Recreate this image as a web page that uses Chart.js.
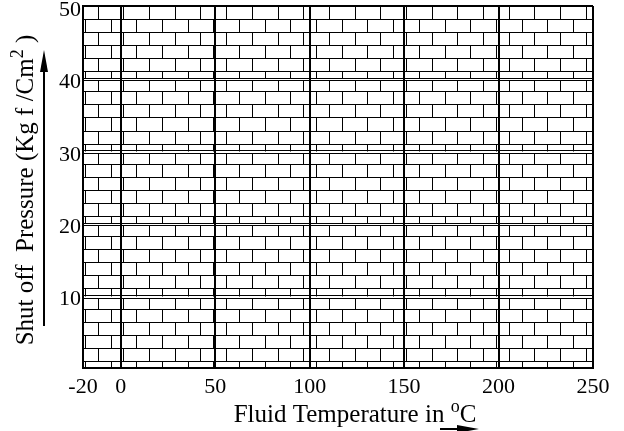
<!DOCTYPE html>
<html>
<head>
<meta charset="utf-8">
<script src="https://cdn.jsdelivr.net/npm/chart.js@4"></script>
<style>
  html, body { margin: 0; padding: 0; background: #fff; }
  #wrap { width: 624px; height: 431px; }
</style>
</head>
<body>
<div id="wrap"><canvas id="chart" width="624" height="431"></canvas></div>
<script>
// Valores dos eixos
const xTicks = [-20, 0, 50, 100, 150, 200, 250];
const yTicks = [0, 10, 20, 30, 40, 50];
const xTitle = [["Fluid Temperature in ", false], ["o", true], ["C", false]];
const yTitle = [["Shut off  Pressure (Kg f /Cm", false], ["2", true], [" )", false]];

// Grade de "tijolos" (em unidades dos eixos)
const brickWidth = 13.6;
const brickHeight = 1.8;
const brickStart = 1.4;

const FONT = "'Liberation Serif', 'Times New Roman', serif";

// Desenha a grade de tijolos antes das linhas principais
const brickPlugin = {
  id: "bricks",
  beforeDraw(chart) {
    const { ctx, chartArea: a, scales: { x, y } } = chart;
    ctx.save();
    ctx.beginPath();
    ctx.rect(a.left, a.top, a.right - a.left, a.bottom - a.top);
    ctx.clip();
    ctx.strokeStyle = "#000";
    ctx.lineWidth = 1;
    for (let b = yTicks.length - 1; b > 0; b--) {
      const top = yTicks[b], bottom = yTicks[b - 1];
      let row = 0;
      for (let v = top; v > bottom + 0.01; v -= brickHeight, row++) {
        let y0 = Math.round(y.getPixelForValue(v)) + 0.5;
        if (row === 0 && b < yTicks.length - 1) y0 += 2; // linha dupla
        const y1 = Math.round(y.getPixelForValue(Math.max(v - brickHeight, bottom))) + 0.5;
        ctx.beginPath();
        ctx.moveTo(a.left, y0);
        ctx.lineTo(a.right, y0);
        const off = brickStart + (row % 2) * brickWidth / 2;
        let j = off;
        while (j > x.min) j -= brickWidth;
        for (; j < x.max; j += brickWidth) {
          if (j <= x.min) continue;
          const px = Math.round(x.getPixelForValue(j)) + 0.5;
          ctx.moveTo(px, y0);
          ctx.lineTo(px, y1);
        }
        ctx.stroke();
      }
    }
    ctx.restore();
  }
};

// Texto com sobrescrito (desenhado a partir da linha de base)
function textWidth(ctx, parts, size) {
  let w = 0;
  parts.forEach(([t, sup]) => {
    ctx.font = `${sup ? Math.round(size * 0.7) : size}px ${FONT}`;
    w += ctx.measureText(t).width;
  });
  return w;
}
function drawParts(ctx, parts, x, y, size) {
  ctx.textBaseline = "alphabetic";
  ctx.textAlign = "left";
  parts.forEach(([t, sup]) => {
    ctx.font = `${sup ? Math.round(size * 0.7) : size}px ${FONT}`;
    ctx.fillText(t, x, sup ? y - size * 0.42 : y);
    x += ctx.measureText(t).width;
  });
}

// Títulos dos eixos e setas
const titlePlugin = {
  id: "titulos",
  afterDraw(chart) {
    const { ctx, chartArea: a } = chart;
    const size = 25;
    ctx.save();
    ctx.fillStyle = "#000";
    ctx.strokeStyle = "#000";

    // título do eixo x
    const wx = textWidth(ctx, xTitle, size);
    drawParts(ctx, xTitle, (a.left + a.right) / 2 + 17 - wx / 2, a.bottom + 54, size);

    // título do eixo y (girado)
    const wy = textWidth(ctx, yTitle, size);
    ctx.save();
    ctx.translate(a.left - 50, (a.top + a.bottom) / 2 + 3);
    ctx.rotate(-Math.PI / 2);
    drawParts(ctx, yTitle, -wy / 2, 0, size);
    ctx.restore();

    // seta vertical
    const ax = a.left - 39;
    ctx.lineWidth = 2;
    ctx.beginPath();
    ctx.moveTo(ax, a.bottom - 42);
    ctx.lineTo(ax, a.top + 60);
    ctx.stroke();
    ctx.beginPath();
    ctx.moveTo(ax, a.top + 44);
    ctx.lineTo(ax - 4, a.top + 66);
    ctx.lineTo(ax + 4, a.top + 66);
    ctx.closePath();
    ctx.fill();

    // seta horizontal (cortada na borda inferior)
    const ay = a.bottom + 61;
    ctx.beginPath();
    ctx.moveTo(a.left + 357, ay);
    ctx.lineTo(a.left + 380, ay);
    ctx.stroke();
    ctx.beginPath();
    ctx.moveTo(a.left + 396, ay);
    ctx.lineTo(a.left + 374, ay - 4);
    ctx.lineTo(a.left + 374, ay + 4);
    ctx.closePath();
    ctx.fill();
    ctx.restore();
  }
};

new Chart(document.getElementById("chart"), {
  type: "scatter",
  data: { datasets: [{ data: [] }] },
  options: {
    responsive: false,
    animation: false,
    layout: { autoPadding: false, padding: { top: 6, right: 31, bottom: 0, left: 0 } },
    plugins: { legend: { display: false }, tooltip: { enabled: false } },
    scales: {
      x: {
        type: "linear",
        min: xTicks[0],
        max: xTicks[xTicks.length - 1],
        afterBuildTicks: s => { s.ticks = xTicks.map(v => ({ value: v })); },
        afterFit: s => { s.height = 63; s.paddingLeft = 0; s.paddingRight = 0; },
        grid: { color: "#000", lineWidth: 2, drawTicks: false },
        border: { display: true, color: "#000", width: 2 },
        ticks: { color: "#000", padding: 6, maxRotation: 0, font: { family: FONT, size: 22 } }
      },
      y: {
        type: "linear",
        min: yTicks[0],
        max: yTicks[yTicks.length - 1],
        afterBuildTicks: s => { s.ticks = yTicks.map(v => ({ value: v })); },
        afterFit: s => { s.width = 83; s.paddingTop = 0; s.paddingBottom = 0; },
        grid: {
          color: "#000",
          lineWidth: c => (c.tick && c.tick.value === yTicks[yTicks.length - 1] ? 2 : 1),
          drawTicks: false
        },
        border: { display: true, color: "#000", width: 2 },
        ticks: {
          color: "#000",
          padding: 2,
          labelOffset: 4,
          font: { family: FONT, size: 22 },
          callback: v => (v === 0 ? "" : v)
        }
      }
    }
  },
  plugins: [brickPlugin, titlePlugin]
});
</script>
</body>
</html>
